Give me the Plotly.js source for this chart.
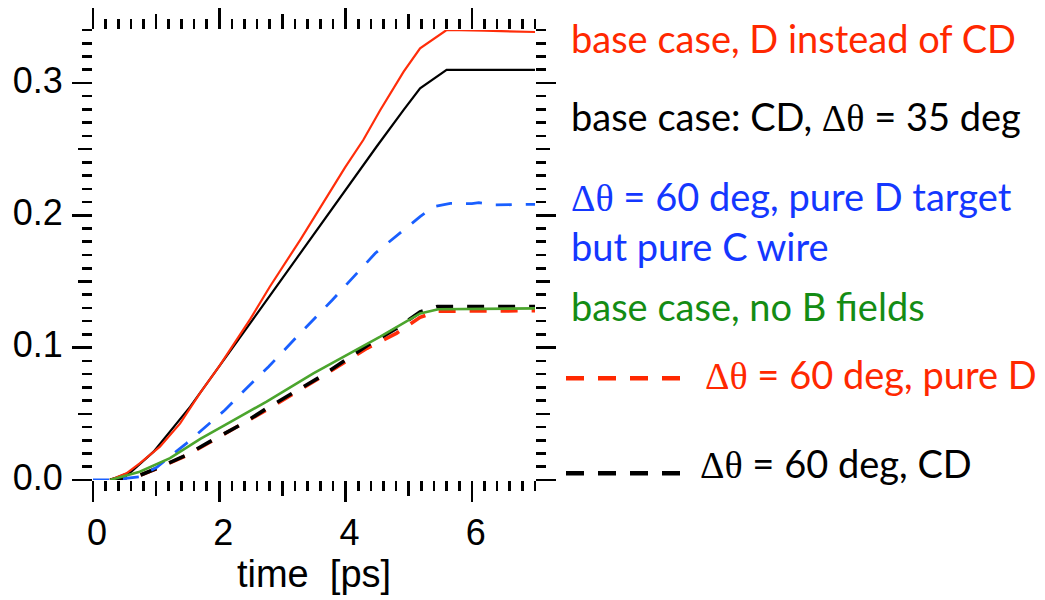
<!DOCTYPE html>
<html>
<head>
<meta charset="utf-8">
<script src="https://cdn.plot.ly/plotly-3.0.1.min.js"></script>
<style>
  html, body { margin: 0; padding: 0; background: #fff; }
  #chart { width: 1045px; height: 600px; }
</style>
</head>
<body>
<div id="chart"></div>
<script>
// Time axis ticks (ps) and value-axis ticks
const xMajorTicks = [0, 2, 4, 6];
const xMidTicks = [1, 3, 5];
const yMajorTicks = [0, 0.1, 0.2, 0.3];
const yMajorLabels = ['0.0', '0.1', '0.2', '0.3'];
const yMidTicks = [0.05, 0.15, 0.25];

// base case, D instead of CD
const tDonly = [0.27, 0.53, 0.74, 1.06, 1.38, 1.7, 2.0, 2.30, 2.49, 2.80, 3.28, 3.99, 4.28, 4.55, 4.92, 5.18, 5.60, 6.2, 6.6, 7.0];
const vDonly = [0, 0.005, 0.0126, 0.0252, 0.0428, 0.066, 0.086, 0.1083, 0.1215, 0.146, 0.1813, 0.2360, 0.2569, 0.2796, 0.3085, 0.3262, 0.3400, 0.3395, 0.3392, 0.3385];

// base case: CD, dtheta = 35 deg
const tBase = [0.27, 0.6, 0.96, 1.54, 2.30, 2.9, 3.44, 4.0, 4.49, 4.92, 5.18, 5.60, 7.0];
const vBase = [0, 0.006, 0.0214, 0.0554, 0.1058, 0.146, 0.1818, 0.2195, 0.2518, 0.2796, 0.2959, 0.3098, 0.3098];

// dtheta = 60 deg, pure D target but pure C wire
const tCwire = [0, 0.3, 0.74, 1.01, 1.48, 1.72, 2.09, 2.54, 2.78, 3.28, 3.49, 3.79, 4.47, 5.18, 5.40, 5.66, 6.0, 6.11, 6.34, 7.0];
const vCwire = [0, 0, 0.0025, 0.0096, 0.0277, 0.0378, 0.0529, 0.0745, 0.0856, 0.1108, 0.1209, 0.1360, 0.1713, 0.1990, 0.2065, 0.2090, 0.2088, 0.2095, 0.2078, 0.2083];

// base case, no B fields
const tNoB = [0.27, 0.74, 1.22, 1.70, 2.2, 2.75, 3.49, 4.0, 4.55, 5.18, 5.47, 7.0];
const vNoB = [0, 0.0063, 0.0165, 0.031, 0.0445, 0.0592, 0.0806, 0.094, 0.1083, 0.1259, 0.1290, 0.1297];

// dtheta = 60 deg, pure D  /  dtheta = 60 deg, CD
const t60 = [0.27, 0.74, 1.01, 1.48, 1.85, 2.38, 2.75, 3.6, 4.34, 4.81, 5.18, 5.45, 7.0];
const v60D = [0, 0.0035, 0.0085, 0.0185, 0.0285, 0.0425, 0.0530, 0.0775, 0.0995, 0.1110, 0.1229, 0.1275, 0.1279];
const v60CD = [0, 0.0035, 0.0088, 0.0189, 0.0290, 0.0428, 0.0541, 0.0780, 0.1015, 0.1146, 0.1270, 0.1310, 0.1310];

const RED = 'rgb(255,45,10)';
const BLACK = '#000000';
const BLUE = 'rgb(25,95,255)';
const GREEN = 'rgb(75,165,45)';

const traces = [
  { x: t60, y: v60D, mode: 'lines', line: { color: RED, width: 3.6, dash: '17px,14px' } },
  { x: t60, y: v60CD, mode: 'lines', line: { color: BLACK, width: 3.6, dash: '17px,14px' } },
  { x: tNoB, y: vNoB, mode: 'lines', xaxis: 'x2', line: { color: GREEN, width: 2.6 } },
  { x: tCwire, y: vCwire, mode: 'lines', yaxis: 'y2', line: { color: BLUE, width: 2.8, dash: '16px,14px' } },
  { x: tBase, y: vBase, mode: 'lines', line: { color: BLACK, width: 2.2 } },
  { x: tDonly, y: vDonly, mode: 'lines', line: { color: RED, width: 2.2 } }
];

const tickFont = { family: 'Liberation Sans, Arial, sans-serif', size: 36, color: '#000' };
const noteFont = { family: 'Lato, Carlito, sans-serif', size: 38 };
const SERIF = 'font-family:Liberation Serif';
const dth = '<span style="' + SERIF + '">\u0394\u03b8</span>';

const baseAxis = {
  showgrid: false, zeroline: false, showline: false,
  ticks: 'outside', mirror: 'ticks', tickcolor: '#000', tickwidth: 2.6,
  fixedrange: true
};

// pixel helpers for the paper-referenced notes (plot box: 93..535 x 30..480)
const PL = 93, PW = 442, PT = 30, PH = 450;
const px = v => (v - PL) / PW;
const py = v => (PT + PH - v) / PH;

const notes = [
  { text: 'base case, D instead of CD', color: 'rgb(255,40,0)', x: 569, y: 38 },
  { text: 'base case: CD, ' + dth + ' = 35 deg', color: '#000', x: 569, y: 116 },
  { text: dth + ' = 60 deg, pure D target', color: 'rgb(20,55,255)', x: 569, y: 196 },
  { text: 'but pure C wire', color: 'rgb(20,55,255)', x: 569, y: 246 },
  { text: 'base case, no B fields', color: 'rgb(20,140,20)', x: 569, y: 306 },
  { text: dth + ' = 60 deg, pure D', color: 'rgb(255,40,0)', x: 703, y: 374 },
  { text: dth + ' = 60 deg, CD', color: '#000', x: 698, y: 463 }
];

const layout = {
  width: 1045, height: 600,
  margin: { l: PL, r: 1045 - PL - PW, t: PT, b: 600 - PT - PH, pad: 0 },
  paper_bgcolor: '#fff', plot_bgcolor: '#fff',
  showlegend: false,
  font: tickFont,
  xaxis: Object.assign({}, baseAxis, {
    range: [0, 7], tickmode: 'array', tickvals: xMajorTicks, ticklen: 21,
    tickfont: tickFont, ticklabelstandoff: 0, ticklabelshift: 4,
    minor: { dtick: 0.2, tick0: 0, ticks: 'outside', ticklen: 10, tickwidth: 2.6, tickcolor: '#000' },
    title: { text: 'time  [ps]', font: { family: 'Liberation Sans, Arial, sans-serif', size: 38 }, standoff: 7 }
  }),
  xaxis2: Object.assign({}, baseAxis, {
    range: [0, 7], overlaying: 'x', anchor: 'y', side: 'bottom',
    tickmode: 'array', tickvals: xMidTicks, ticklen: 15, showticklabels: false
  }),
  yaxis: Object.assign({}, baseAxis, {
    range: [0, 0.34], tickmode: 'array', tickvals: yMajorTicks, ticktext: yMajorLabels, ticklen: 20,
    tickfont: tickFont, ticklabelstandoff: 2, ticklabelshift: -3,
    minor: { dtick: 0.01, tick0: 0, ticks: 'outside', ticklen: 10, tickwidth: 2.6, tickcolor: '#000' }
  }),
  yaxis2: Object.assign({}, baseAxis, {
    range: [0, 0.34], overlaying: 'y', anchor: 'x', side: 'left',
    tickmode: 'array', tickvals: yMidTicks, ticklen: 14, showticklabels: false
  }),
  annotations: notes.map(n => ({
    xref: 'paper', yref: 'paper', x: px(n.x), y: py(n.y),
    xanchor: 'left', yanchor: 'middle', showarrow: false, align: 'left',
    text: n.text, font: Object.assign({}, noteFont, { color: n.color })
  })),
  // line keys next to the two dashed-curve notes
  shapes: [
    { type: 'line', xref: 'paper', yref: 'paper', x0: px(566), x1: px(681), y0: py(378.3), y1: py(378.3),
      line: { color: 'rgb(255,40,0)', width: 4.5, dash: '18px,14px' } },
    { type: 'line', xref: 'paper', yref: 'paper', x0: px(566), x1: px(681), y0: py(473.3), y1: py(473.3),
      line: { color: '#000', width: 4.5, dash: '18px,14px' } }
  ]
};

Plotly.newPlot('chart', traces, layout, { staticPlot: true, displayModeBar: false });
</script>
</body>
</html>
